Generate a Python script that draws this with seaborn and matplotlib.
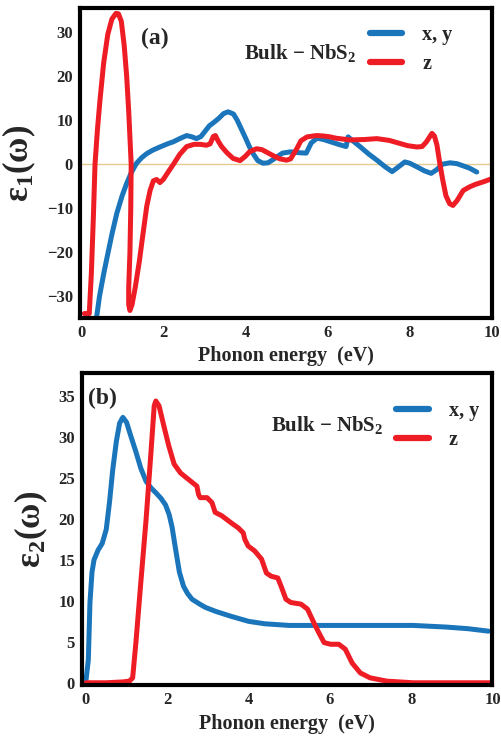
import numpy as np
import pandas as pd
import matplotlib
matplotlib.use("Agg")
import matplotlib.pyplot as plt
import seaborn as sns

# ---- data (energy in eV) ----
# panel (a): real part eps1
e1_xy_x = [0.38, 0.45, 0.55, 0.62, 0.75, 0.87, 1.0, 1.11, 1.22, 1.35, 1.48, 1.6, 1.75, 1.92, 2.1,
           2.25, 2.4, 2.57, 2.7, 2.81, 2.92, 3.02, 3.12, 3.22, 3.35, 3.47, 3.58, 3.71, 3.8, 3.9,
           4.0, 4.1, 4.2, 4.3, 4.43, 4.55, 4.7, 4.9, 5.1, 5.3, 5.48, 5.6, 5.74, 5.9, 6.1, 6.3,
           6.45, 6.5, 6.6, 6.8, 7.0, 7.2, 7.4, 7.57, 7.7, 7.88, 8.0, 8.17, 8.35, 8.52, 8.65,
           8.8, 8.98, 9.15, 9.3, 9.45, 9.63]
e1_xy_y = [-34.7, -30, -25, -21.8, -16, -11.2, -7.2, -4.4, -2, 0.2, 1.5, 2.4, 3.2, 3.9, 4.6,
           5.1, 5.8, 6.5, 6.2, 5.8, 6.3, 7.5, 8.7, 9.4, 10.4, 11.5, 11.9, 11.4, 10, 8,
           6, 3.9, 2.2, 0.8, 0.2, 0.3, 1.2, 2.5, 2.8, 2.6, 2.5, 4.8, 5.9, 5.6, 5.0, 4.4,
           4.0, 6.2, 5.4, 3.9, 2.3, 0.9, -0.6, -1.7, -0.8, 0.5, 0.2, -0.6, -1.5, -2.1, -1.3,
           0.0, 0.3, 0.1, -0.4, -0.9, -1.8]

e1_z_x = [0.08, 0.2, 0.25, 0.3, 0.34, 0.4, 0.46, 0.55, 0.65, 0.75, 0.85, 0.91, 0.98, 1.05, 1.11,
          1.16, 1.2, 1.22, 1.21, 1.19, 1.16, 1.16, 1.19, 1.24, 1.32, 1.42, 1.52, 1.6, 1.68, 1.76,
          1.84, 1.92, 2.0, 2.12, 2.25, 2.4, 2.57, 2.75, 2.9, 3.05, 3.14, 3.22, 3.27, 3.34, 3.42,
          3.55, 3.7, 3.87, 4.0, 4.1, 4.27, 4.4, 4.52, 4.7, 4.84, 5.0, 5.1, 5.25, 5.35, 5.5,
          5.73, 5.9, 6.06, 6.2, 6.55, 6.9, 7.2, 7.5, 7.76, 7.95, 8.17, 8.3, 8.4, 8.54, 8.6,
          8.66, 8.73, 8.8, 8.88, 8.97, 9.05, 9.15, 9.3, 9.45, 9.6, 9.8, 10.0]
e1_z_y = [-34, -34, -25, -12, 0, 8, 14.5, 23, 29.5, 33, 34.3, 34.2, 32.5, 27, 20,
          12, 4, 0, -10, -20, -28, -32, -33.3, -32, -28, -22, -15, -9.5, -6, -3.8,
          -3.5, -4.2, -3.5, -1.8, 0, 2.2, 4, 4.5, 4.5, 4.3, 4.6, 6.3, 6.5, 5.2, 4,
          2.6, 1.3, 0.8, 1.8, 2.8, 3.5, 3.3, 2.7, 1.8, 1.2, 0.9, 1.2, 3.5, 5.3, 6.2,
          6.5, 6.4, 6.2, 5.9, 5.5, 5.6, 5.8, 5.4, 4.7, 4.2, 3.9, 4.0, 5.0, 7.0, 6.4,
          4.4, 0.2, -3.5, -7.2, -9.0, -9.4, -8.3, -6.0, -5.2, -4.6, -4.0, -3.3]

# panel (b): imaginary part eps2
e2_xy_x = [0.0, 0.06, 0.1, 0.15, 0.2, 0.3, 0.4, 0.5, 0.58, 0.66, 0.75, 0.83, 0.91, 1.0, 1.1,
           1.23, 1.35, 1.48, 1.6, 1.72, 1.85, 1.96, 2.05, 2.12, 2.2, 2.3, 2.4, 2.5, 2.61, 2.8,
           2.94, 3.2, 3.58, 4.0, 4.4, 5.0, 6.0, 7.0, 8.05, 8.86, 9.4, 9.9]
e2_xy_y = [0.2, 2.8, 9.8, 13.5, 15, 16.2, 17, 18.7, 22, 26, 29.5, 31.7, 32.4, 31.8, 30.2,
           28.2, 26.2, 24.6, 23.8, 23.2, 22.5, 21.7, 20.5, 19, 16.5, 13.5, 11.8, 10.9, 10.2, 9.6,
           9.2, 8.7, 8.1, 7.5, 7.2, 7.0, 7.0, 7.0, 7.0, 6.8, 6.6, 6.3]

e2_z_x = [0.0, 0.5, 0.9, 1.07, 1.15, 1.23, 1.35, 1.48, 1.6, 1.68, 1.72, 1.8, 1.92, 2.04, 2.17,
          2.33, 2.53, 2.73, 2.77, 2.81, 2.98, 3.1, 3.18, 3.34, 3.58, 3.75, 3.87, 3.91, 3.99, 4.15,
          4.32, 4.44, 4.56, 4.72, 4.8, 4.92, 5.04, 5.29, 5.45, 5.61, 5.73, 5.86, 6.02, 6.22, 6.38,
          6.55, 6.75, 6.99, 7.4, 8.05, 10.0]
e2_z_y = [0.0, 0.0, 0.1, 0.2, 0.6, 4.9, 12.2, 19.9, 28.1, 33.8, 34.4, 33.8, 31.3, 28.9, 26.7,
          25.6, 24.8, 24.0, 23.0, 22.6, 22.6, 22.0, 20.8, 20.4, 19.5, 18.9, 18.3, 17.5, 16.7, 16.1,
          15.1, 13.4, 13.0, 12.8, 11.8, 10.2, 9.8, 9.6, 9.0, 7.3, 6.1, 4.9, 4.7, 4.7, 4.1,
          2.4, 1.2, 0.6, 0.2, 0.0, 0.0]

series_labels = ["x, y", "z"]
blue = "#1b75bb"
red = "#ee1c24"

sns.set_style("white")
plt.rcParams["font.family"] = ["Liberation Serif", "DejaVu Serif"]
plt.rcParams["font.weight"] = "bold"
plt.rcParams["mathtext.fontset"] = "custom"
plt.rcParams["mathtext.rm"] = "Liberation Serif:bold"
plt.rcParams["mathtext.it"] = "Liberation Serif:italic:bold"
plt.rcParams["mathtext.bf"] = "Liberation Serif:bold"


def make_df(x, y, name):
    return pd.DataFrame({"E": x, "eps": y, "dir": name})


def style_axes(ax):
    for sp in ax.spines.values():
        sp.set_linewidth(3)
        sp.set_color("black")
    ax.tick_params(direction="in", length=4, width=1, labelsize=12, pad=5)
    for lab in ax.get_xticklabels() + ax.get_yticklabels():
        lab.set_fontweight("bold")


fig = plt.figure(figsize=(5.02, 7.36), dpi=100)

# ---------------- panel (a) ----------------
ax1 = fig.add_axes([0.159, 0.568, 0.821, 0.421])
df_a = pd.concat([make_df(e1_xy_x, e1_xy_y, series_labels[0]),
                  make_df(e1_z_x, e1_z_y, series_labels[1])])
ax1.axhline(0, color="#e6c98f", lw=1, zorder=0)
sns.lineplot(data=df_a, x="E", y="eps", hue="dir", palette=[blue, red], sort=False,
             estimator=None, units="dir", lw=3.6, ax=ax1, legend=True)
ax1.set_xlim(-0.03, 10)
ax1.set_ylim(-35, 35.5)
ax1.set_xticks([0, 2, 4, 6, 8, 10])
ax1.set_yticks([-30, -20, -10, 0, 10, 20, 30])
ax1.set_xlabel("Phonon energy  (eV)", fontsize=14.5, fontweight="bold", labelpad=4)
ax1.set_ylabel("ε$_1$(ω)", fontsize=25, fontweight="bold", labelpad=6)
ax1.text(0.182, 0.903, "(a)", transform=ax1.transAxes, ha="center", va="center",
         fontsize=17, fontweight="bold")
ax1.text(0.534, 0.856, "Bulk − NbS$_2$", transform=ax1.transAxes, ha="center",
         va="center", fontsize=15, fontweight="bold")
leg = ax1.legend(loc="upper left", bbox_to_anchor=(0.704, 0.945), frameon=False,
                 handlelength=1.6, handletextpad=1.0, labelspacing=0.45,
                 borderpad=0, borderaxespad=0, prop={"size": 14.5, "weight": "bold"})
for h in leg.get_lines():
    h.set_linewidth(4.5)
style_axes(ax1)

# ---------------- panel (b) ----------------
ax2 = fig.add_axes([0.163, 0.069, 0.818, 0.424])
df_b = pd.concat([make_df(e2_xy_x, e2_xy_y, series_labels[0]),
                  make_df(e2_z_x, e2_z_y, series_labels[1])])
sns.lineplot(data=df_b, x="E", y="eps", hue="dir", palette=[blue, red], sort=False,
             estimator=None, units="dir", lw=3.6, ax=ax2, legend=True)
ax2.set_xlim(-0.1, 10)
ax2.set_ylim(-0.3, 37.8)
ax2.set_xticks([0, 2, 4, 6, 8, 10])
ax2.set_yticks([0, 5, 10, 15, 20, 25, 30, 35])
ax2.set_xlabel("Phonon energy  (eV)", fontsize=14.5, fontweight="bold", labelpad=4)
ax2.set_ylabel("ε$_2$(ω)", fontsize=25, fontweight="bold", labelpad=6)
ax2.text(0.05, 0.92, "(b)", transform=ax2.transAxes, ha="center", va="center",
         fontsize=17, fontweight="bold")
ax2.text(0.598, 0.833, "Bulk − NbS$_2$", transform=ax2.transAxes, ha="center",
         va="center", fontsize=15, fontweight="bold")
leg2 = ax2.legend(loc="upper left", bbox_to_anchor=(0.766, 0.91), frameon=False,
                  handlelength=1.6, handletextpad=1.0, labelspacing=0.45,
                  borderpad=0, borderaxespad=0, prop={"size": 14.5, "weight": "bold"})
for h in leg2.get_lines():
    h.set_linewidth(4.5)
style_axes(ax2)

fig.savefig("out.png", dpi=100)
